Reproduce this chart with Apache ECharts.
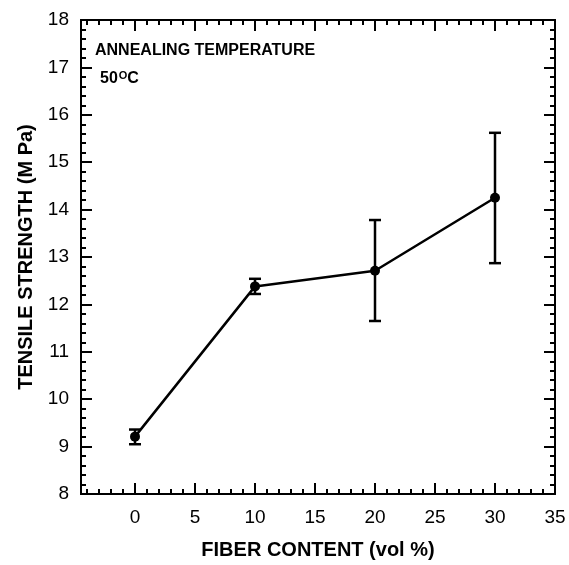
<html lang="en">
<head>
  <meta charset="utf-8">
  <title>Tensile strength vs fiber content</title>
  <script src="https://cdn.jsdelivr.net/npm/echarts@6/dist/echarts.min.js"></script>
  <style>
    html, body { margin: 0; padding: 0; background: #fff; }
    #main { width: 569px; height: 565px; }
  </style>
</head>
<body>
<div id="main"></div>
<script>
  // data
  var fiberContent = [0, 10, 20, 30];
  var strength = [9.21, 12.38, 12.71, 14.25];
  var errLow = [9.05, 12.22, 11.65, 12.87];
  var errHigh = [9.36, 12.54, 13.78, 15.62];
  var xLabelVals = [0, 5, 10, 15, 20, 25, 30, 35];
  var xMinorVals = [-4, -3, -2, -1, 0, 1, 2, 3, 4, 5, 6, 7, 8, 9, 10, 11, 12, 13, 14, 15, 16, 17,
    18, 19, 20, 21, 22, 23, 24, 25, 26, 27, 28, 29, 30, 31, 32, 33, 34, 35];

  var font = 'Liberation Sans, Arial, Helvetica, sans-serif';
  var black = '#000';

  var lineData = fiberContent.map(function (x, i) { return [x, strength[i]]; });
  var errData = fiberContent.map(function (x, i) { return [x, errLow[i], errHigh[i]]; });

  function xAx(pos, ticks, len, labels) {
    return {
      type: 'value', position: pos, min: -4.5, max: 35,
      axisLine: { show: true, onZero: false, lineStyle: { color: black, width: 2 } },
      axisTick: { show: true, inside: true, length: len, customValues: ticks,
        lineStyle: { color: black, width: 2 } },
      axisLabel: labels ? { show: true, customValues: xLabelVals, color: black,
        fontFamily: font, fontSize: 19, margin: 14 } : { show: false },
      splitLine: { show: false }
    };
  }
  function yAx(pos, labels) {
    return {
      type: 'value', position: pos, min: 8, max: 18, interval: 1,
      axisLine: { show: true, onZero: false, lineStyle: { color: black, width: 2 } },
      axisTick: { show: true, inside: true, length: 11, lineStyle: { color: black, width: 2 } },
      minorTick: { show: true, splitNumber: 5, length: 5, lineStyle: { color: black, width: 2 } },
      axisLabel: labels ? { show: true, color: black, fontFamily: font, fontSize: 19, margin: 12 } : { show: false },
      splitLine: { show: false }
    };
  }

  var xBottom = xAx('bottom', xLabelVals, 11, true);
  xBottom.name = 'FIBER CONTENT (vol %)';
  xBottom.nameLocation = 'middle';
  xBottom.nameGap = 46;
  xBottom.nameTextStyle = { color: black, fontFamily: font, fontSize: 20, fontWeight: 'bold' };
  var yLeft = yAx('left', true);
  yLeft.name = 'TENSILE STRENGTH (M Pa)';
  yLeft.nameLocation = 'middle';
  yLeft.nameGap = 40;
  yLeft.nameTextStyle = { color: black, fontFamily: font, fontSize: 20, fontWeight: 'bold' };

  var myChart = echarts.init(document.getElementById('main'), null, { renderer: 'canvas' });
  myChart.setOption({
    animation: false,
    backgroundColor: '#fff',
    grid: { left: 81, right: 14, top: 20, bottom: 67 },
    xAxis: [
      xBottom,
      xAx('bottom', xMinorVals, 5, false),
      xAx('top', xLabelVals, 11, false),
      xAx('top', xMinorVals, 5, false)
    ],
    yAxis: [yLeft, yAx('right', false)],
    graphic: [
      { type: 'text', left: 95, top: 43,
        style: { text: 'ANNEALING TEMPERATURE', fill: black, font: 'bold 16px ' + font } },
      { type: 'text', left: 100, top: 70,
        style: { text: '50{s|O}C', fill: black, font: 'bold 16px ' + font,
          rich: { s: { fontSize: 11, fontWeight: 'bold', fontFamily: font, verticalAlign: 'top', padding: [0, 0, 7, 1] } } } }
    ],
    series: [
      {
        type: 'custom', xAxisIndex: 0, yAxisIndex: 0, data: errData,
        renderItem: function (params, api) {
          var lo = api.coord([api.value(0), api.value(1)]);
          var hi = api.coord([api.value(0), api.value(2)]);
          var w = 6;
          var st = { stroke: black, lineWidth: 2.5 };
          return { type: 'group', children: [
            { type: 'line', shape: { x1: lo[0], y1: lo[1], x2: hi[0], y2: hi[1] }, style: st },
            { type: 'line', shape: { x1: lo[0] - w, y1: lo[1], x2: lo[0] + w, y2: lo[1] }, style: st },
            { type: 'line', shape: { x1: hi[0] - w, y1: hi[1], x2: hi[0] + w, y2: hi[1] }, style: st }
          ] };
        },
        z: 3
      },
      {
        type: 'line', xAxisIndex: 0, yAxisIndex: 0, data: lineData,
        symbol: 'circle', symbolSize: 10,
        lineStyle: { color: black, width: 2.5 },
        itemStyle: { color: black },
        z: 4
      }
    ]
  });
</script>
</body>
</html>
